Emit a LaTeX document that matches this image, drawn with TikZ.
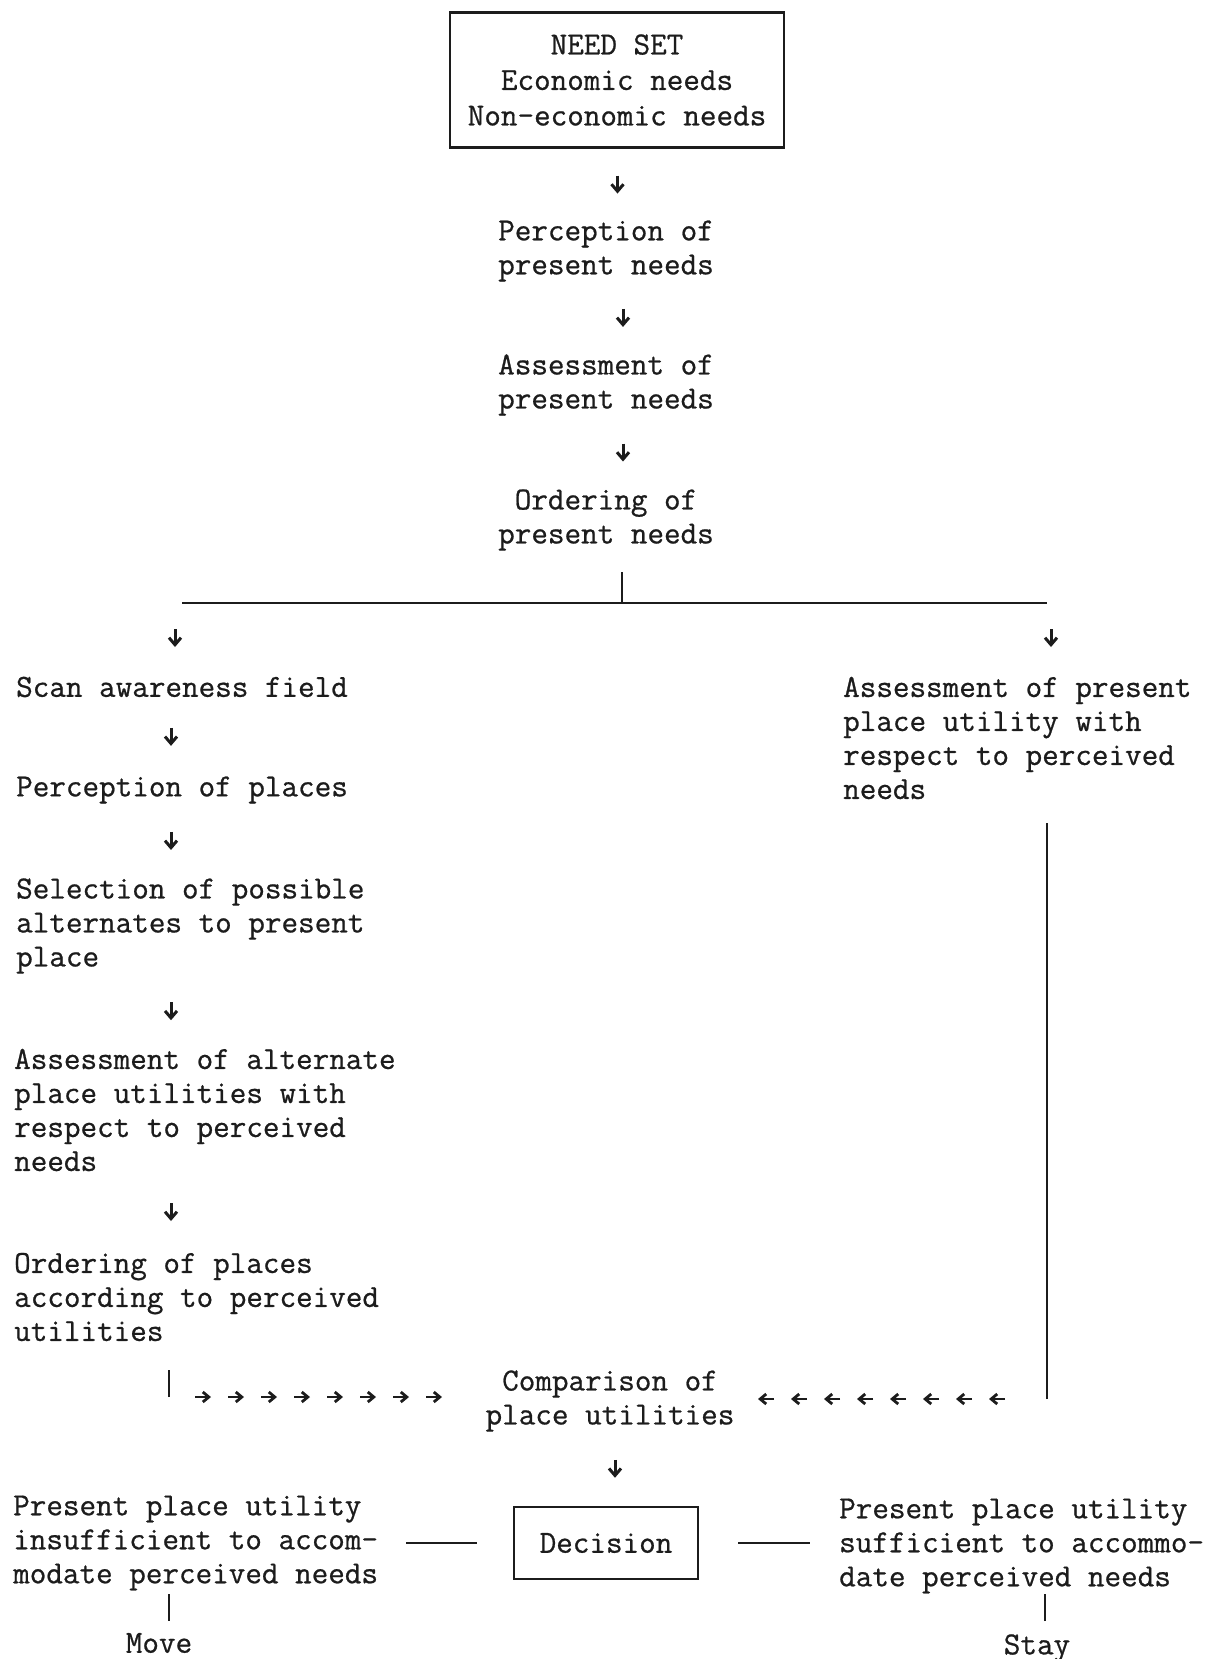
\documentclass[tikz,border=0pt]{standalone}
\usepackage{fontspec}
\setmonofont{Latin Modern Mono}[FakeBold=0.7]
\usetikzlibrary{arrows.meta,calc}
\definecolor{ink}{HTML}{1C1C1C}

\begin{document}
\begin{tikzpicture}[x=1pt,y=-1pt,
  txt/.style={inner sep=0pt,align=left,font=\fontsize{32.2}{34}\selectfont\ttfamily,text=ink},
  ctxt/.style={txt,align=center},
  box/.style={ctxt,draw=ink,line width=2.6pt},
  arr/.style={-{Straight Barb[length=7pt,width=12pt]},line width=3pt,ink},
  harr/.style={-{Straight Barb[length=6pt,width=10pt]},line width=2.8pt,ink},
  rule/.style={line width=2.6pt,ink}
]
\useasboundingbox (0,0) rectangle (1205,1659);
% central column
\node[box,minimum width=334pt,minimum height=135pt,font=\fontsize{32.2}{35.5}\selectfont\ttfamily] (needset) at (617,80) {NEED SET\\Economic needs\\Non-economic needs};
\node[ctxt] (percneeds) at (606,251) {Perception of\\present needs};
\node[ctxt] (assneeds) at (606,385) {Assessment of\\present needs};
\node[ctxt] (ordneeds) at (606,520) {Ordering of\\present needs};
\draw[arr] ($(needset.south)!.5!(percneeds.north)+(6,-9)$) -- ++(0,18);
\draw[arr] ($(percneeds.south)!.5!(assneeds.north)+(17,-9)$) -- ++(0,18);
\draw[arr] ($(assneeds.south)!.5!(ordneeds.north)+(17,-9)$) -- ++(0,18);
% fork
\coordinate (fork) at (622,603);
\coordinate (forkL) at (182,603);
\coordinate (forkR) at (1047,603);
\draw[rule] (forkL) -- (forkR);
\draw[rule] (fork) -- ++(0,-31);
\draw[arr] ($(forkL)+(-7,26)$) -- ++(0,18);
\draw[arr] ($(forkR)+(4,26)$) -- ++(0,18);
% left column
\node[txt,anchor=west] (scan) at (16,687) {Scan awareness field};
\node[txt,anchor=west] (pplaces) at (16,790) {Perception of places};
\node[txt,anchor=west] (select) at (16,926) {Selection of possible\\alternates to present\\place};
\node[txt,anchor=west] (assalt) at (14,1110) {Assessment of alternate\\place utilities with\\respect to perceived\\needs};
\node[txt,anchor=west] (ordplaces) at (14,1297) {Ordering of places\\according to perceived\\utilities};
\draw[arr] ($(scan.south west)!.5!(pplaces.north west)+(155,-9)$) -- ++(0,18);
\draw[arr] ($(pplaces.south west)!.5!(select.north west)+(155,-9)$) -- ++(0,18);
\draw[arr] ($(select.south west)!.5!(assalt.north west)+(156,-9)$) -- ++(0,18);
\draw[arr] ($(assalt.south west)!.5!(ordplaces.north west)+(157,-9)$) -- ++(0,18);
% right column
\node[txt,anchor=west] (asspres) at (843,738) {Assessment of present\\place utility with\\respect to perceived\\needs};
% comparison
\node[ctxt] (comp) at (610,1401) {Comparison of\\place utilities};
\coordinate (lfoot) at (169,1397);
\coordinate (rfoot) at (1047,1399);
\draw[rule] (lfoot) -- ++(0,-27);
\draw[rule] (rfoot) -- ++(0,-576);
\foreach \k in {0,...,7}{
  \draw[harr] ($(lfoot)+(26+33*\k,0)$) -- ++(16,0);
  \draw[harr] ($(rfoot)+(-273+33*\k,0)$) -- ++(-16,0);
}
% decision
\node[box,minimum width=184pt,minimum height=72pt] (decision) at (606,1543) {Decision};
\draw[arr] ($(comp.south)!.5!(decision.north)+(7,-9)$) -- ++(0,18);
\node[txt,anchor=west] (insuff) at (13,1543) {Present place utility\\insufficient to accom-\\modate perceived needs};
\node[txt,anchor=west] (suff) at (839,1546) {Present place utility\\sufficient to accommo-\\date perceived needs};
\draw[rule] ([xshift=-36pt]decision.west) -- ([xshift=-107pt]decision.west);
\draw[rule] ([xshift=39pt]decision.east) -- ([xshift=111pt]decision.east);
% outcomes
\node[ctxt] (move) at (159,1643) {Move};
\node[ctxt] (stay) at (1037,1648) {Stay};
\draw[rule] ($(move.north)+(10,-12)$) -- ++(0,-27);
\draw[rule] ($(stay.north)+(8,-13)$) -- ++(0,-27);
\end{tikzpicture}
\end{document}
